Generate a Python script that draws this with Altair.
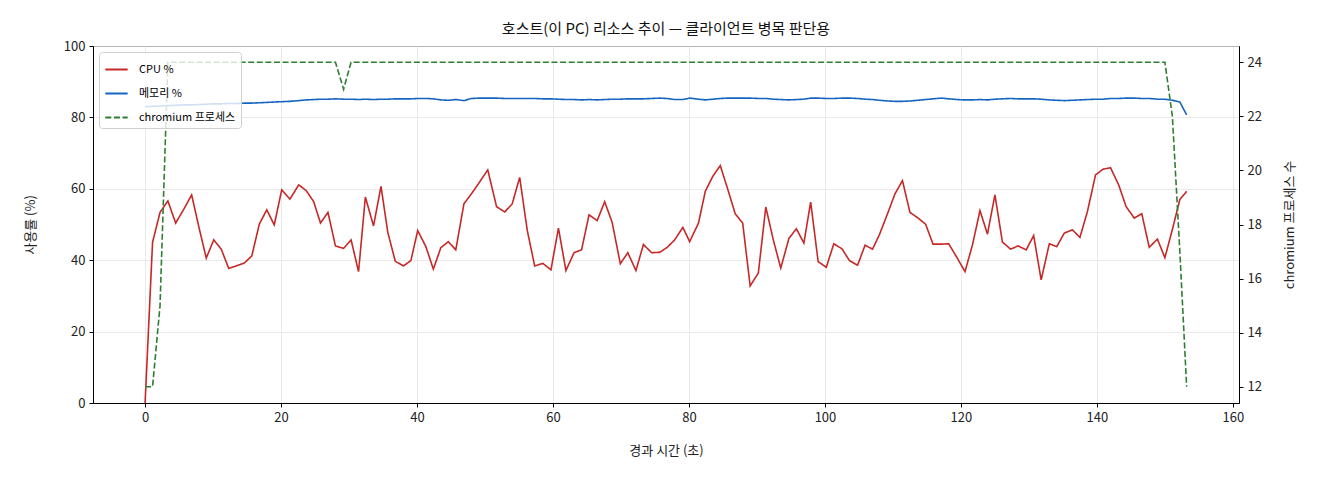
import altair as alt
import pandas as pd

# elapsed seconds since the monitor started
elapsed = [
    0, 1.1, 2.2, 3.35, 4.5, 5.7, 6.85, 7.9, 9.0, 10.1,
    11.2, 12.3, 13.4, 14.6, 15.7, 16.8, 17.9, 19.0, 20.1, 21.3,
    22.6, 23.7, 24.8, 25.8, 26.9, 28.0, 29.2, 30.3, 31.4, 32.4,
    33.6, 34.7, 35.7, 36.8, 38.0, 39.1, 40.1, 41.3, 42.4, 43.5,
    44.6, 45.7, 46.9, 48.0, 49.1, 50.4, 51.7, 52.9, 54.0, 55.1,
    56.2, 57.3, 58.5, 59.7, 60.8, 61.9, 63.1, 64.2, 65.3, 66.5,
    67.6, 68.7, 69.9, 71.0, 72.2, 73.3, 74.5, 75.7, 76.8, 77.9,
    79.1, 80.1, 81.4, 82.4, 83.5, 84.6, 85.7, 86.8, 87.9, 89.0,
    90.2, 91.3, 92.4, 93.5, 94.7, 95.8, 96.9, 97.9, 99.0, 100.2,
    101.3, 102.5, 103.6, 104.8, 105.9, 107.0, 108.0, 109.2, 110.3, 111.4,
    112.5, 113.7, 114.8, 115.9, 117.1, 118.2, 119.4, 120.6, 121.7, 122.8,
    123.9, 125.0, 126.1, 127.3, 128.4, 129.6, 130.7, 131.8, 133.0, 134.1,
    135.2, 136.4, 137.5, 138.6, 139.8, 140.9, 142.0, 143.2, 144.3, 145.5,
    146.6, 147.7, 148.9, 150.0, 151.1, 152.2, 153.2,
]

cpu_pct = [
    0, 45.0, 53.4, 56.6, 50.4, 54.3, 58.3, 49.4, 40.6, 45.7,
    43.1, 37.7, 38.4, 39.2, 41.2, 50.1, 54.1, 49.9, 59.7, 57.1,
    61.1, 59.5, 56.4, 50.4, 53.4, 44.0, 43.3, 45.7, 36.8, 57.7,
    49.6, 60.7, 47.8, 39.7, 38.4, 39.9, 48.3, 43.8, 37.5, 43.5,
    45.2, 42.9, 55.8, 58.6, 61.6, 65.3, 55.0, 53.5, 55.8, 63.2,
    48.5, 38.4, 39.1, 37.3, 49.0, 37.1, 42.1, 42.9, 52.7, 51.1,
    56.4, 50.6, 39.0, 42.1, 37.1, 44.4, 42.1, 42.2, 43.6, 45.7,
    49.2, 45.2, 50.4, 59.3, 63.5, 66.5, 59.9, 53.0, 50.4, 32.8,
    36.4, 54.9, 45.7, 37.8, 46.1, 48.8, 44.8, 56.3, 39.6, 38.0,
    44.6, 43.2, 39.9, 38.6, 44.2, 43.1, 47.1, 53.0, 58.6, 62.3,
    53.4, 51.8, 50.1, 44.5, 44.5, 44.6, 40.8, 36.8, 44.3, 53.9,
    47.3, 58.3, 45.1, 43.1, 44.0, 42.9, 46.9, 34.5, 44.6, 43.8,
    47.6, 48.5, 46.4, 53.6, 63.9, 65.5, 65.9, 61.1, 55.0, 51.8,
    53.0, 43.6, 45.9, 40.7, 48.6, 57.0, 59.3,
]

mem_pct = [
    83.0, 83.1, 83.2, 83.3, 83.4, 83.5, 83.5, 83.6, 83.7, 83.8,
    83.8, 83.9, 83.9, 84.0, 84.0, 84.1, 84.2, 84.3, 84.4, 84.5,
    84.7, 84.9, 85.0, 85.1, 85.1, 85.2, 85.1, 85.1, 85.0, 85.1,
    85.0, 85.1, 85.1, 85.2, 85.2, 85.2, 85.3, 85.3, 85.2, 84.9,
    84.8, 85.0, 84.7, 85.3, 85.4, 85.4, 85.4, 85.3, 85.3, 85.3,
    85.3, 85.3, 85.2, 85.2, 85.1, 85.0, 85.0, 84.9, 85.0, 84.9,
    85.0, 85.1, 85.1, 85.2, 85.2, 85.2, 85.3, 85.4, 85.3, 85.0,
    85.0, 85.4, 85.1, 84.9, 85.1, 85.3, 85.4, 85.4, 85.4, 85.4,
    85.3, 85.3, 85.1, 85.0, 84.9, 85.0, 85.1, 85.4, 85.4, 85.3,
    85.3, 85.4, 85.4, 85.3, 85.1, 85.0, 84.8, 84.6, 84.5, 84.5,
    84.6, 84.8, 85.0, 85.2, 85.4, 85.2, 85.0, 84.9, 84.9, 85.0,
    84.9, 85.1, 85.2, 85.3, 85.2, 85.2, 85.2, 85.1, 84.9, 84.8,
    84.7, 84.8, 84.9, 85.0, 85.1, 85.1, 85.3, 85.3, 85.4, 85.4,
    85.3, 85.3, 85.1, 85.1, 84.8, 84.3, 80.7,
]

chromium_procs = [12, 12, 15] + [24] * 23 + [23] + [24] * 107 + [22, 17, 12]

SERIES = ["CPU %", "메모리 %", "chromium 프로세스"]
COLORS = ["#c62828", "#1565c0", "#2e7d32"]
DASHES = [[1, 0], [1, 0], [6, 2.6]]
FONT = "Noto Sans CJK KR"

usage = pd.DataFrame({"t": elapsed, "CPU %": cpu_pct, "메모리 %": mem_pct}).melt(
    "t", var_name="series", value_name="value"
)
procs = pd.DataFrame({"t": elapsed, "value": chromium_procs})
procs["series"] = "chromium 프로세스"

x_enc = alt.X(
    "t:Q",
    scale=alt.Scale(domain=[-7.66, 160.9], nice=False, zero=False),
    axis=alt.Axis(values=list(range(0, 161, 20)), title="경과 시간 (초)", titlePadding=20),
)
color_enc = alt.Color(
    "series:N",
    scale=alt.Scale(domain=SERIES, range=COLORS),
    legend=alt.Legend(
        title=None, orient="none", legendX=6, legendY=6,
        symbolType="stroke", symbolSize=500, symbolStrokeWidth=1.8,
        labelFontSize=11, labelFont=FONT, rowPadding=6, labelOffset=10,
        fillColor="rgba(255,255,255,0.8)", strokeColor="#d0d0d0",
        cornerRadius=3, padding=5,
    ),
)
dash_enc = alt.StrokeDash(
    "series:N",
    scale=alt.Scale(domain=SERIES, range=DASHES),
    legend=alt.Legend(title=None, orient="none", legendX=6, legendY=6),
)

usage_lines = alt.Chart(usage).mark_line(strokeWidth=1.6).encode(
    x=x_enc,
    y=alt.Y(
        "value:Q",
        scale=alt.Scale(domain=[0, 100], nice=False),
        axis=alt.Axis(values=list(range(0, 101, 20)), title="사용률 (%)", titlePadding=26),
    ),
    color=color_enc,
    strokeDash=dash_enc,
)

proc_line = alt.Chart(procs).mark_line(strokeWidth=1.6).encode(
    x=x_enc,
    y=alt.Y(
        "value:Q",
        scale=alt.Scale(domain=[11.4, 24.6], nice=False, zero=False),
        axis=alt.Axis(
            orient="right", values=list(range(12, 25, 2)), grid=False,
            title="chromium 프로세스 수", titleAngle=270, titlePadding=35,
        ),
    ),
    color=color_enc,
    strokeDash=dash_enc,
)

chart = (
    alt.layer(usage_lines, proc_line)
    .resolve_scale(y="independent")
    .properties(
        width=1146, height=357,
        autosize=alt.AutoSizeParams(type="none"),
        padding={"left": 85, "top": 38, "right": 73, "bottom": 69},
        title=alt.Title(
            "호스트(이 PC) 리소스 추이 — 클라이언트 병목 판단용",
            font=FONT, fontSize=15, fontWeight="normal", color="#111", offset=3,
        ),
    )
    .configure_view(stroke="black", strokeWidth=1)
    .configure_axis(
        labelFont=FONT, titleFont=FONT, labelFontSize=13, titleFontSize=13,
        titleFontWeight="normal", labelColor="#222", titleColor="#222",
        gridColor="#e4e4e4", gridWidth=0.8, domainColor="black",
        tickColor="black", tickSize=4, labelPadding=4,
    )
)

chart.save("out.html", embed_options={"renderer": "svg", "actions": False})
